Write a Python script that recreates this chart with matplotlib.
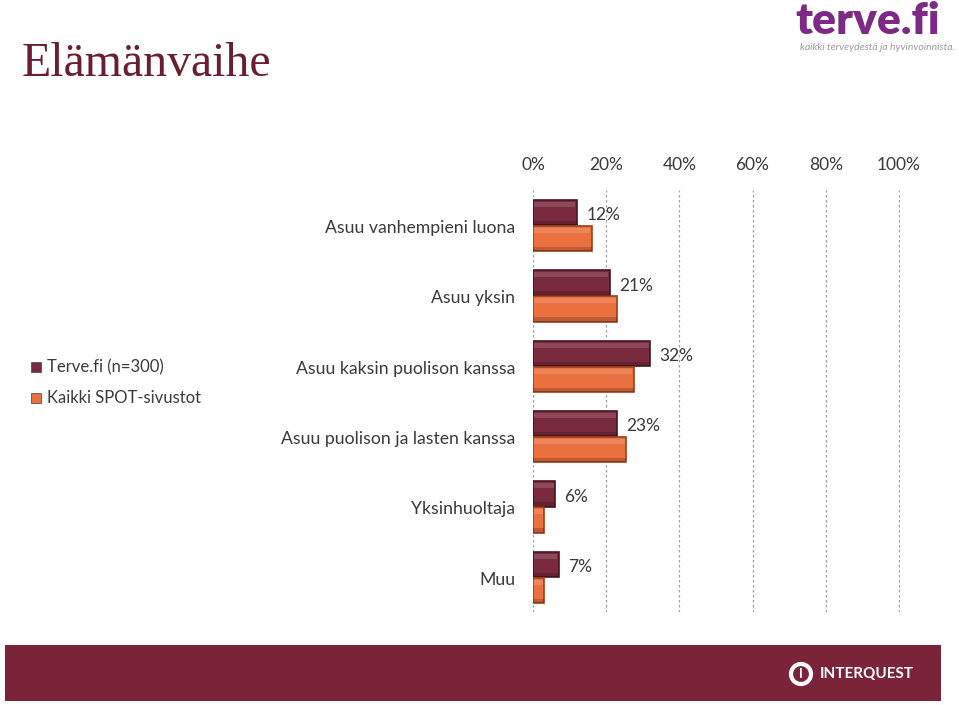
import matplotlib.pyplot as plt
from matplotlib.patches import Rectangle, Ellipse

# data
kategoriat = ['Asuu vanhempieni luona', 'Asuu yksin', 'Asuu kaksin puolison kanssa',
              'Asuu puolison ja lasten kanssa', 'Yksinhuoltaja', 'Muu']
terve = [12, 21, 32, 23, 6, 7]
kaikki = [16, 23, 27.5, 25.5, 3, 3]
x_ticks = [0, 20, 40, 60, 80, 100]
sarjat = ['Terve.fi (n=300)', 'Kaikki SPOT-sivustot']

VARI_TERVE = '#7a2a3e'
VARI_KAIKKI = '#ea7040'
OTSIKKO = '#6b1e30'
TEKSTI = '#3a3a3a'

plt.rcParams['font.family'] = ['Lato', 'DejaVu Sans']

fig = plt.figure(figsize=(9.59, 7.05), dpi=100)
ax = fig.add_axes([0.5558, 0.1319, 0.3827, 0.5986])

y = list(range(len(kategoriat)))
h = 0.36


def bevel_bars(ys, vals, color, edge):
    ax.barh(ys, vals, height=h, color=color, edgecolor=edge, linewidth=1.2, zorder=3)
    # bevel: light strip on top, darker strip at bottom
    for yy, v in zip(ys, vals):
        ax.add_patch(Rectangle((0.4, yy - h / 2 + 0.03), max(v - 0.8, 0), h * 0.2,
                               facecolor='white', alpha=0.15, linewidth=0, zorder=4))
        ax.add_patch(Rectangle((0, yy + h / 2 - 0.06), v, 0.06,
                               facecolor='black', alpha=0.18, linewidth=0, zorder=4))


bevel_bars([v - 0.18 for v in y], terve, VARI_TERVE, '#4a1524')
bevel_bars([v + 0.19 for v in y], kaikki, VARI_KAIKKI, '#9a4018')

for yy, v in zip(y, terve):
    ax.text(v + 2.6, yy - 0.14, f'{v}%', va='center', ha='left', fontsize=12.5, color=TEKSTI)

ax.set_xlim(0, 100.3)
ax.set_ylim(len(kategoriat) - 0.5, -0.5)
ax.set_xticks(x_ticks)
ax.set_xticklabels([f'{t}%' for t in x_ticks], fontsize=12.5, color=TEKSTI)
ax.xaxis.tick_top()
ax.tick_params(axis='x', length=0, pad=12)
ax.set_yticks([])
for yy, nimi in zip(y, kategoriat):
    ax.text(-18 / 367, yy + 0.04, nimi, transform=ax.get_yaxis_transform(),
            ha='right', va='center', fontsize=12.7, color=TEKSTI)
ax.grid(axis='x', color='#a0a0a0', linestyle=(0, (2, 2)), linewidth=0.9, zorder=0)
for s in ax.spines.values():
    s.set_visible(False)

# legend
for i, (nimi, col) in enumerate(zip(sarjat, [VARI_TERVE, VARI_KAIKKI])):
    yf = 1 - (367 + 31 * i) / 705
    fig.patches.append(Rectangle((31 / 959, yf - 5 / 705), 10 / 959, 10 / 705,
                                 transform=fig.transFigure, facecolor=col,
                                 edgecolor='#555555', linewidth=0.6))
    fig.text(47 / 959, yf, nimi, fontsize=12, color=TEKSTI, va='center', ha='left')

# title
fig.text(22 / 959, 1 - 64 / 705, 'Elämänvaihe', fontsize=34.5, color=OTSIKKO,
         family='Liberation Serif', va='center', ha='left')

# terve.fi logo
fig.text(940 / 959, 1 - 21 / 705, 'terve.fi', fontsize=32, fontweight='heavy',
         color='#7d2a86', va='center', ha='right', family='Lato')
fig.text(955 / 959, 1 - 47 / 705, 'kaikki terveydestä ja hyvinvoinnista.', fontsize=7.5,
         style='italic', color='#9a9a9a', va='center', ha='right')

# bottom band
fig.patches.append(Rectangle((5 / 959, 4 / 705), 936 / 959, 56 / 705,
                             transform=fig.transFigure, facecolor='#7b2439', linewidth=0))
fig.patches.append(Ellipse((801 / 959, 1 - 674 / 705), 20 / 959, 20 / 705,
                           transform=fig.transFigure, facecolor='none',
                           edgecolor='white', linewidth=3))
fig.text(801 / 959, 1 - 674 / 705, 'I', fontsize=9, fontweight='bold', color='white',
         va='center', ha='center')
fig.text(820 / 959, 1 - 674 / 705, 'INTERQUEST', fontsize=11, fontweight='bold',
         color='white', va='center', ha='left')

fig.savefig('out.png', dpi=100)
